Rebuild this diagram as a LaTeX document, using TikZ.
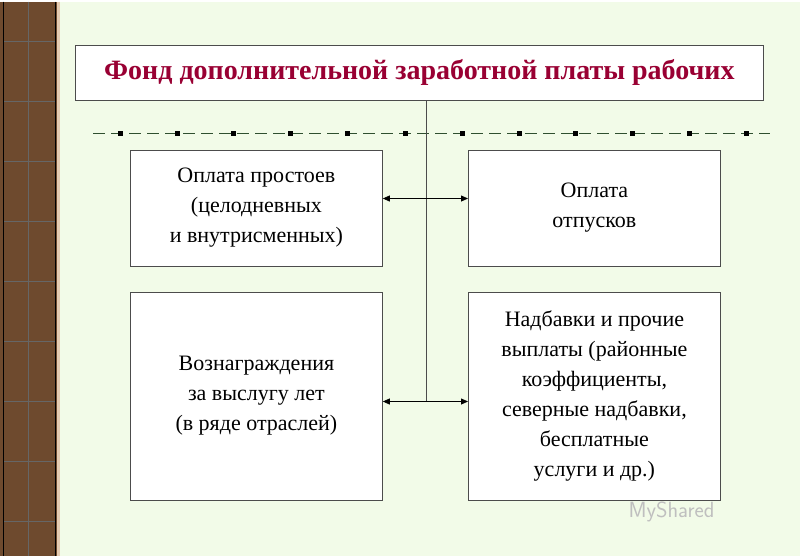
\documentclass[tikz,border=0pt]{standalone}
\usepackage{fontspec}
\setmainfont{Liberation Serif}
\usetikzlibrary{arrows.meta}
\definecolor{bg}{HTML}{F2FBE8}
\definecolor{title}{HTML}{990033}
\definecolor{brn}{HTML}{6E4A2E}
\definecolor{dashcol}{HTML}{2F4F2F}
\tikzset{box/.style={draw=black!70,fill=white,line width=0.8pt},
 txt/.style={align=center,font=\fontsize{22}{30}\selectfont},
 conn/.style={line width=0.8pt,black!70},
 arr/.style={line width=0.8pt,{Triangle[length=7pt,width=6pt]}-{Triangle[length=7pt,width=6pt]}},
 mk/.style={fill=black,minimum size=5pt,inner sep=0pt}}
\begin{document}
\begin{tikzpicture}[x=1pt,y=-1pt]
\fill[bg] (0,0) rectangle (800,554);
\fill[brn] (0,0) rectangle (58,554);
\draw[line width=3pt,brown!40!white] (58,0) -- (58,554);
\foreach \yy in {40,100,160,220,280,340,400,460,520} \draw[black!60,line width=0.6pt] (3,\yy) -- (55,\yy);
\draw[black!60,line width=0.6pt] (28,0) -- (28,554);
\draw[line width=0.8pt,black] (3,0) -- (3,554) (55,0) -- (55,554);
\node[box,minimum width=688,minimum height=55,anchor=north west] (t) at (75,43) {};
\node[font=\fontsize{28}{30}\selectfont\bfseries,text=title] at (t.center) {Фонд дополнительной заработной платы рабочих};
\draw[dashcol,line width=1.2pt,dash pattern=on 12pt off 6pt] (93,132) -- (770,132);
\foreach \xx in {120,177,233,290,347,405,462,519,575,632,689,746} \node[mk] at (\xx,132) {};
\coordinate (b) at (426,400);
\draw[conn] (t.south -| b) -- (b);
\node[box,minimum width=252,minimum height=116,anchor=north west] (a1) at (130,148) {};
\node[txt] at (a1.center) {Оплата простоев\\(целодневных\\и внутрисменных)};
\node[box,minimum width=252,minimum height=116,anchor=north west] (a2) at (468,148) {};
\node[txt] at (a2.center) {Оплата\\отпусков};
\node[box,minimum width=252,minimum height=208,anchor=north west] (a3) at (130,290) {};
\node[txt] at (a3.center) {Вознаграждения\\за выслугу лет\\(в ряде отраслей)};
\node[box,minimum width=252,minimum height=208,anchor=north west] (a4) at (468,290) {};
\node[txt] at (a4.center) {Надбавки и прочие\\выплаты (районные\\коэффициенты,\\северные надбавки,\\бесплатные\\услуги и др.)};
\draw[arr] (a1.east |- 0,197) -- (a2.west |- 0,197);
\draw[arr] (a3.east |- 0,400) -- (a4.west |- 0,400);
\node[text=black!25,font=\sffamily\fontsize{22}{22}\selectfont,anchor=west] (w) at (625,510) {MyShared};
\end{tikzpicture}
\end{document}
